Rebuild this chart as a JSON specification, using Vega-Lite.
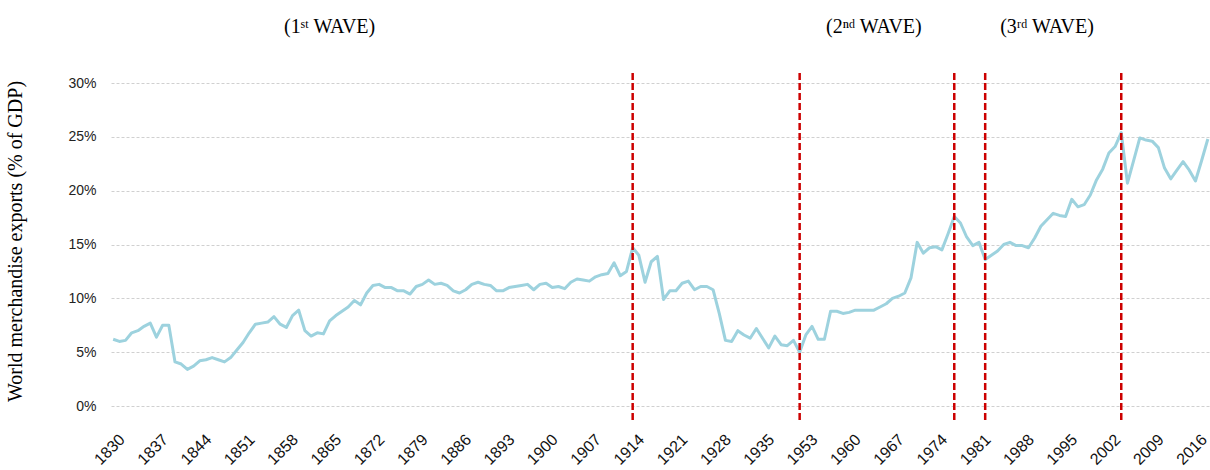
{
  "$schema": "https://vega.github.io/schema/vega-lite/v6.json",
  "width": 1099,
  "height": 348,
  "autosize": {"type": "none"},
  "padding": {"left": 111, "top": 73, "right": 0, "bottom": 49},
  "background": "white",
  "config": {"view": {"stroke": null}, "font": "Liberation Sans"},
  "datasets": {
    "exports": [
      {"year":1830,"exports":6.2},{"year":1831,"exports":6.0},{"year":1832,"exports":6.1},{"year":1833,"exports":6.8},{"year":1834,"exports":7.0},
      {"year":1835,"exports":7.4},{"year":1836,"exports":7.7},{"year":1837,"exports":6.4},{"year":1838,"exports":7.5},{"year":1839,"exports":7.5},
      {"year":1840,"exports":4.1},{"year":1841,"exports":3.9},{"year":1842,"exports":3.4},{"year":1843,"exports":3.7},{"year":1844,"exports":4.2},
      {"year":1845,"exports":4.3},{"year":1846,"exports":4.5},{"year":1847,"exports":4.3},{"year":1848,"exports":4.1},{"year":1849,"exports":4.5},
      {"year":1850,"exports":5.2},{"year":1851,"exports":5.9},{"year":1852,"exports":6.8},{"year":1853,"exports":7.6},{"year":1854,"exports":7.7},
      {"year":1855,"exports":7.8},{"year":1856,"exports":8.3},{"year":1857,"exports":7.6},{"year":1858,"exports":7.3},{"year":1859,"exports":8.4},
      {"year":1860,"exports":8.9},{"year":1861,"exports":7.0},{"year":1862,"exports":6.5},{"year":1863,"exports":6.8},{"year":1864,"exports":6.7},
      {"year":1865,"exports":7.9},{"year":1866,"exports":8.4},{"year":1867,"exports":8.8},{"year":1868,"exports":9.2},{"year":1869,"exports":9.8},
      {"year":1870,"exports":9.4},{"year":1871,"exports":10.5},{"year":1872,"exports":11.2},{"year":1873,"exports":11.3},{"year":1874,"exports":11.0},
      {"year":1875,"exports":11.0},{"year":1876,"exports":10.7},{"year":1877,"exports":10.7},{"year":1878,"exports":10.4},{"year":1879,"exports":11.1},
      {"year":1880,"exports":11.3},{"year":1881,"exports":11.7},{"year":1882,"exports":11.3},{"year":1883,"exports":11.4},{"year":1884,"exports":11.2},
      {"year":1885,"exports":10.7},{"year":1886,"exports":10.5},{"year":1887,"exports":10.8},{"year":1888,"exports":11.3},{"year":1889,"exports":11.5},
      {"year":1890,"exports":11.3},{"year":1891,"exports":11.2},{"year":1892,"exports":10.7},{"year":1893,"exports":10.7},{"year":1894,"exports":11.0},
      {"year":1895,"exports":11.1},{"year":1896,"exports":11.2},{"year":1897,"exports":11.3},{"year":1898,"exports":10.8},{"year":1899,"exports":11.3},
      {"year":1900,"exports":11.4},{"year":1901,"exports":11.0},{"year":1902,"exports":11.1},{"year":1903,"exports":10.9},{"year":1904,"exports":11.5},
      {"year":1905,"exports":11.8},{"year":1906,"exports":11.7},{"year":1907,"exports":11.6},{"year":1908,"exports":12.0},{"year":1909,"exports":12.2},
      {"year":1910,"exports":12.3},{"year":1911,"exports":13.3},{"year":1912,"exports":12.1},{"year":1913,"exports":12.5},{"year":1914,"exports":14.7},
      {"year":1915,"exports":14.0},{"year":1916,"exports":11.5},{"year":1917,"exports":13.4},{"year":1918,"exports":13.9},{"year":1919,"exports":9.9},
      {"year":1920,"exports":10.7},{"year":1921,"exports":10.7},{"year":1922,"exports":11.4},{"year":1923,"exports":11.6},{"year":1924,"exports":10.8},
      {"year":1925,"exports":11.1},{"year":1926,"exports":11.1},{"year":1927,"exports":10.8},{"year":1928,"exports":8.6},{"year":1929,"exports":6.1},
      {"year":1930,"exports":6.0},{"year":1931,"exports":7.0},{"year":1932,"exports":6.6},{"year":1933,"exports":6.3},{"year":1934,"exports":7.2},
      {"year":1935,"exports":6.3},{"year":1936,"exports":5.4},{"year":1937,"exports":6.5},{"year":1938,"exports":5.7},
      {"year":1950,"exports":5.6},{"year":1951,"exports":6.1},{"year":1952,"exports":5.0},{"year":1953,"exports":6.6},{"year":1954,"exports":7.4},
      {"year":1955,"exports":6.2},{"year":1956,"exports":6.2},{"year":1957,"exports":8.8},{"year":1958,"exports":8.8},{"year":1959,"exports":8.6},
      {"year":1960,"exports":8.7},{"year":1961,"exports":8.9},{"year":1962,"exports":8.9},{"year":1963,"exports":8.9},{"year":1964,"exports":8.9},
      {"year":1965,"exports":9.2},{"year":1966,"exports":9.5},{"year":1967,"exports":10.0},{"year":1968,"exports":10.2},{"year":1969,"exports":10.5},
      {"year":1970,"exports":11.9},{"year":1971,"exports":15.2},{"year":1972,"exports":14.2},{"year":1973,"exports":14.7},{"year":1974,"exports":14.8},
      {"year":1975,"exports":14.5},{"year":1976,"exports":16.0},{"year":1977,"exports":17.6},{"year":1978,"exports":17.0},{"year":1979,"exports":15.7},
      {"year":1980,"exports":14.9},{"year":1981,"exports":15.2},{"year":1982,"exports":13.6},{"year":1983,"exports":14.0},{"year":1984,"exports":14.4},
      {"year":1985,"exports":15.0},{"year":1986,"exports":15.2},{"year":1987,"exports":14.9},{"year":1988,"exports":14.9},{"year":1989,"exports":14.7},
      {"year":1990,"exports":15.6},{"year":1991,"exports":16.7},{"year":1992,"exports":17.3},{"year":1993,"exports":17.9},{"year":1994,"exports":17.7},
      {"year":1995,"exports":17.6},{"year":1996,"exports":19.2},{"year":1997,"exports":18.5},{"year":1998,"exports":18.7},{"year":1999,"exports":19.6},
      {"year":2000,"exports":21.0},{"year":2001,"exports":22.0},{"year":2002,"exports":23.5},{"year":2003,"exports":24.1},{"year":2004,"exports":25.4},
      {"year":2005,"exports":20.7},{"year":2006,"exports":22.8},{"year":2007,"exports":24.9},{"year":2008,"exports":24.7},{"year":2009,"exports":24.6},
      {"year":2010,"exports":24.0},{"year":2011,"exports":22.1},{"year":2012,"exports":21.1},{"year":2013,"exports":21.9},{"year":2014,"exports":22.7},
      {"year":2015,"exports":21.9},{"year":2016,"exports":20.9},{"year":2017,"exports":22.8},{"year":2018,"exports":24.8}
    ],
    "events": [
      {"year":1914},{"year":1952},{"year":1977},{"year":1982},{"year":2004}
    ],
    "waves": [
      {"year":1865,"label":"(1ˢᵗ WAVE)"},
      {"year":1964,"label":"(2ⁿᵈ WAVE)"},
      {"year":1992,"label":"(3ʳᵈ WAVE)"}
    ]
  },
  "layer": [
    {
      "data": {"name": "exports"},
      "mark": {"type": "line", "color": "#9dd2de", "strokeWidth": 3, "strokeJoin": "round"},
      "encoding": {
        "x": {
          "field": "year", "type": "ordinal",
          "scale": {"type": "point", "padding": 0.35},
          "axis": {
            "title": null, "domain": false, "ticks": false, "grid": false,
            "values": [1830,1837,1844,1851,1858,1865,1872,1879,1886,1893,1900,1907,1914,1921,1928,1935,1953,1960,1967,1974,1981,1988,1995,2002,2009,2016],
            "labelAngle": -45, "labelFont": "Liberation Sans", "labelFontSize": 16, "labelColor": "#111111",
            "labelPadding": 10, "labelOffset": 3
          }
        },
        "y": {
          "field": "exports", "type": "quantitative",
          "scale": {"domain": [-1.39, 30.93], "nice": false, "zero": false},
          "axis": {
            "domain": false, "ticks": false, "grid": true,
            "gridColor": "#d0d0d0", "gridDash": [3, 2], "gridWidth": 1,
            "values": [0, 5, 10, 15, 20, 25, 30],
            "labelExpr": "datum.value + '%'",
            "labelFont": "Liberation Sans", "labelFontSize": 14, "labelColor": "#222222", "labelPadding": 15,
            "title": "World merchandise exports (% of GDP)",
            "titleFont": "Liberation Serif", "titleFontSize": 20, "titleFontWeight": "normal", "titleColor": "#000000",
            "titleX": -86, "titleY": 168
          }
        }
      }
    },
    {
      "data": {"name": "events"},
      "mark": {"type": "rule", "color": "#cc0000", "strokeWidth": 2.5, "strokeDash": [7, 3]},
      "encoding": {"x": {"field": "year", "type": "ordinal"}}
    },
    {
      "data": {"name": "waves"},
      "mark": {"type": "text", "font": "Liberation Serif", "fontSize": 20, "baseline": "alphabetic", "align": "center", "color": "#000000"},
      "encoding": {
        "x": {"field": "year", "type": "ordinal"},
        "y": {"datum": 34.65},
        "text": {"field": "label"}
      }
    }
  ]
}
